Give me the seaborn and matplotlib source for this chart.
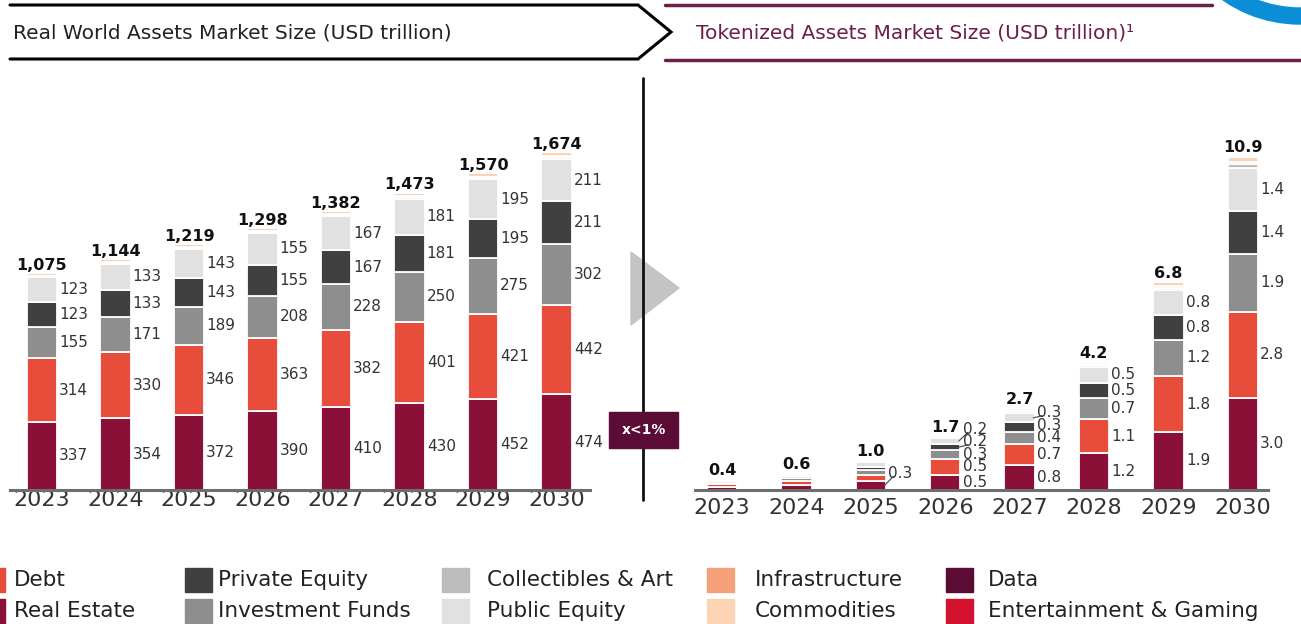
import numpy as np
import seaborn as sns
import matplotlib.pyplot as plt
from matplotlib.patches import Rectangle, Polygon, Wedge

# --- data ---------------------------------------------------------------
years = ["2023", "2024", "2025", "2026", "2027", "2028", "2029", "2030"]

categories = ["Real Estate", "Debt", "Investment Funds", "Private Equity",
              "Public Equity", "Collectibles & Art", "Infrastructure",
              "Commodities", "Data", "Entertainment & Gaming"]

# real world assets (USD trillion)
rwa_real_estate = [337, 354, 372, 390, 410, 430, 452, 474]
rwa_debt = [314, 330, 346, 363, 382, 401, 421, 442]
rwa_funds = [155, 171, 189, 208, 228, 250, 275, 302]
rwa_private_eq = [123, 133, 143, 155, 167, 181, 195, 211]
rwa_public_eq = [123, 133, 143, 155, 167, 181, 195, 211]
rwa_collectibles = [5, 5, 6, 6, 6, 7, 7, 8]
rwa_infra = [4, 4, 4, 5, 5, 5, 5, 6]
rwa_commodities = [12, 12, 14, 14, 15, 16, 18, 18]
rwa_data = [1, 1, 1, 1, 1, 1, 1, 1]
rwa_entertainment = [1, 1, 1, 1, 1, 1, 1, 1]
rwa_totals = ["1,075", "1,144", "1,219", "1,298", "1,382", "1,473", "1,570", "1,674"]

# tokenized assets (USD trillion)
tok_real_estate = [0.1, 0.15, 0.3, 0.5, 0.8, 1.2, 1.9, 3.0]
tok_debt = [0.08, 0.13, 0.2, 0.5, 0.7, 1.1, 1.8, 2.8]
tok_funds = [0.06, 0.1, 0.15, 0.3, 0.4, 0.7, 1.2, 1.9]
tok_private_eq = [0.05, 0.07, 0.1, 0.2, 0.3, 0.5, 0.8, 1.4]
tok_public_eq = [0.06, 0.08, 0.15, 0.2, 0.3, 0.5, 0.8, 1.4]
tok_collectibles = [0.01, 0.02, 0.03, 0.03, 0.06, 0.06, 0.08, 0.12]
tok_infra = [0.01, 0.01, 0.02, 0.02, 0.04, 0.04, 0.06, 0.08]
tok_commodities = [0.02, 0.03, 0.04, 0.04, 0.08, 0.08, 0.12, 0.15]
tok_data = [0.005, 0.005, 0.005, 0.005, 0.01, 0.01, 0.02, 0.025]
tok_entertainment = [0.005, 0.005, 0.005, 0.005, 0.01, 0.01, 0.02, 0.025]
tok_totals = ["0.4", "0.6", "1.0", "1.7", "2.7", "4.2", "6.8", "10.9"]

main5 = categories[:5]
tok_labeled = [[], [], ["Real Estate"], main5, main5, main5, main5, main5]

colors = {
    "Real Estate": "#8A1038",
    "Debt": "#E84D3C",
    "Investment Funds": "#8E8E8E",
    "Private Equity": "#404040",
    "Public Equity": "#E1E1E1",
    "Collectibles & Art": "#BDBDBD",
    "Infrastructure": "#F4A07A",
    "Commodities": "#FDD3B5",
    "Data": "#5A0C35",
    "Entertainment & Gaming": "#D2122E",
}

rwa = dict(zip(categories, [rwa_real_estate, rwa_debt, rwa_funds, rwa_private_eq,
                            rwa_public_eq, rwa_collectibles, rwa_infra,
                            rwa_commodities, rwa_data, rwa_entertainment]))
tok = dict(zip(categories, [tok_real_estate, tok_debt, tok_funds, tok_private_eq,
                            tok_public_eq, tok_collectibles, tok_infra,
                            tok_commodities, tok_data, tok_entertainment]))

# --- figure -------------------------------------------------------------
sns.set_style("white")
plt.rcParams['font.family'] = ['DejaVu Sans']

W, H = 1301, 624
fig = plt.figure(figsize=(W / 100, H / 100), dpi=100)
TXT = "#333333"
BAR_W = 0.41


def px_axes(x0, y0, x1, y1):
    return fig.add_axes([x0 / W, 1 - y1 / H, (x1 - x0) / W, (y1 - y0) / H])


def stacked(ax, data, totals, labeled, fmt, gap, lift=None):
    bottom = np.zeros(len(years))
    for cat in categories:
        vals = np.array(data[cat], dtype=float)
        sns.barplot(x=years, y=vals, bottom=bottom, color=colors[cat], ax=ax,
                    width=BAR_W, errorbar=None, saturation=1,
                    edgecolor="white", linewidth=1.3)
        bottom = bottom + vals
    # segment labels, pushed up when they would collide
    for i in range(len(years)):
        base = 0.0
        prev = -1e9
        for cat in categories:
            v = data[cat][i]
            centre = base + v / 2
            base += v
            if cat not in labeled[i]:
                continue
            y = max(centre, prev + gap)
            if lift and (i, cat) in lift:
                y += lift[(i, cat)]
            prev = y
            xr = i + BAR_W / 2
            ax.text(xr + 0.03, y, fmt(v), ha="left", va="center",
                    fontsize=11, color=TXT)
            if y - centre > gap * 0.2:
                ax.plot([xr - 0.02, xr + 0.1], [centre, y - gap * 0.25],
                        color="#555555", lw=0.9, solid_capstyle="round")
        ax.text(i, bottom[i], totals[i], ha="center", va="bottom",
                fontsize=11.5, fontweight="bold", color="#111111")
    ax.set_xlabel("")
    ax.set_ylabel("")
    ax.set_yticks([])
    sns.despine(ax=ax, left=True, top=True, right=True)
    ax.spines["bottom"].set_color("#6E6E6E")
    ax.spines["bottom"].set_linewidth(2.2)
    ax.tick_params(axis="x", length=0, labelsize=16, labelcolor=TXT)
    ax.patch.set_alpha(0)


# left chart: real world assets
ax1 = px_axes(10, 120, 590, 490)
stacked(ax1, rwa, rwa_totals, [main5] * len(years), lambda v: f"{v:.0f}", 60)
ax1.set_xlim(-(42 - 10) / 73.5, -(42 - 10) / 73.5 + 580 / 73.5)
ax1.set_ylim(0, 370 / 0.202)
ax1.tick_params(axis="x", pad=0)

# right chart: tokenized assets
ax2 = px_axes(695, 120, 1268, 490)
stacked(ax2, tok, tok_totals, tok_labeled, lambda v: f"{v:.1f}", 0.41,
        lift={(2, "Real Estate"): 0.4})
ax2.set_xlim(-(722 - 695) / 74.4, -(722 - 695) / 74.4 + 573 / 74.4)
ax2.set_ylim(0, 370 / 30.7)
ax2.tick_params(axis="x", pad=6)

# --- decorations in pixel space -------------------------------------------
deco = fig.add_axes([0, 0, 1, 1], zorder=-1)
deco.set_xlim(0, W)
deco.set_ylim(H, 0)
deco.axis("off")

over = fig.add_axes([0, 0, 1, 1], zorder=5)
over.set_xlim(0, W)
over.set_ylim(H, 0)
over.axis("off")

# header left (black chevron band)
deco.plot([10, 638, 671, 638, 10], [5, 5, 32, 59, 59], color="black", lw=2.2,
          solid_joinstyle="miter")
deco.text(13, 33, "Real World Assets Market Size (USD trillion)", fontsize=14.5,
          color="#222222", va="center", ha="left")

# header right (maroon band)
MAROON = "#6B1F4A"
deco.plot([665, 1212], [5, 5], color=MAROON, lw=2.5)
deco.plot([665, W], [60, 60], color=MAROON, lw=2.5)
deco.text(696, 33, "Tokenized Assets Market Size (USD trillion)\u00b9", fontsize=14.5,
          color=MAROON, va="center", ha="left")
over.add_patch(Wedge((1300, -111.5), 135.5, 0, 360, width=16, color="#0A8FD6"))

# divider, arrow and x<1% box
over.add_patch(Polygon([[631, 252], [631, 325], [679, 288]], closed=True,
                       color="#C4C4C4", zorder=1))
over.plot([643, 643], [78, 500], color="#111111", lw=2, zorder=2)
over.add_patch(Rectangle((609, 412), 69, 36, color="#5A0C35", zorder=3))
over.text(643.5, 430, "x<1%", color="white", fontsize=10, fontweight="bold",
          ha="center", va="center", zorder=4)

# legend (swatch x, text x, entries)
legend_cols = [
    (-22, 14, ["Debt", "Real Estate"]),
    (185, 218, ["Private Equity", "Investment Funds"]),
    (442, 487, ["Collectibles & Art", "Public Equity"]),
    (707, 755, ["Infrastructure", "Commodities"]),
    (946, 988, ["Data", "Entertainment & Gaming"]),
]
rows_y = [580, 611]
for x0, tx, names in legend_cols:
    for name, yc in zip(names, rows_y):
        over.add_patch(Rectangle((x0, yc - 12), 27, 24, color=colors[name]))
        over.text(tx, yc, name, fontsize=15.5, color="#222222", va="center",
                  ha="left")

fig.savefig("out.png", dpi=100)
